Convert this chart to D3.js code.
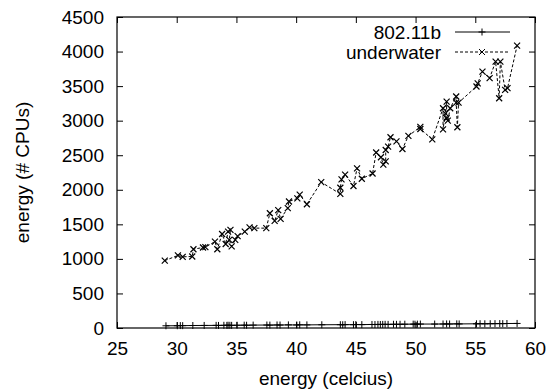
<!DOCTYPE html>
<html>
<head>
<meta charset="utf-8">
<script src="https://cdn.jsdelivr.net/npm/d3@7"></script>
<style>
  body { margin: 0; background: #fff; }
  svg { display: block; }
  text { font-family: "Liberation Sans", Arial, Helvetica, sans-serif; fill: #000; }
</style>
</head>
<body>
<svg id="chart" width="556" height="390"></svg>
<script>
// underwater series (temperature, value)
var underwaterX = [29.0, 30.1, 30.5, 31.3, 31.4, 32.2, 32.4, 33.2, 33.4, 33.8, 34.1, 34.3, 34.5, 34.4, 34.6,
  34.9, 35.1, 35.7, 36.1, 36.5, 37.5, 37.8, 38.2, 38.5, 38.7, 39.3, 39.4, 40.1, 40.3, 40.9,
  42.1, 43.7, 43.7, 43.8, 44.1, 44.8, 45.1, 45.5, 46.4, 46.7, 47.1, 47.3, 47.5, 47.5, 47.7,
  47.9, 48.4, 48.9, 49.4, 50.4, 50.4, 51.4, 52.3, 52.3, 52.5, 52.6, 52.6, 52.7, 52.9, 53.4,
  53.4, 53.5, 53.6, 55.1, 55.2, 55.6, 56.2, 56.7, 57.0, 57.1, 57.5, 57.7, 58.5];
var underwaterY = [975, 1050, 1030, 1035, 1140, 1165, 1170, 1250, 1140, 1360, 1215, 1395, 1420, 1275, 1180,
  1275, 1330, 1395, 1455, 1445, 1445, 1660, 1550, 1705, 1580, 1735, 1830, 1875, 1930, 1790,
  2110, 1940, 2030, 2150, 2220, 2055, 2310, 2160, 2235, 2540, 2470, 2365, 2410, 2575, 2625,
  2760, 2700, 2590, 2780, 2910, 2880, 2730, 3180, 2875, 3105, 3275, 3035, 3000, 3180, 3350,
  3260, 2905, 3260, 3495, 3540, 3710, 3615, 3855, 3325, 3855, 3445, 3470, 4085];

// 802.11b series
var wifiX = [29.1, 30.05, 30.3, 30.5, 31.35, 32.3, 33.3, 33.5, 33.95, 34.2, 34.3, 34.45, 34.6, 35.05, 35.65,
  35.85, 36.4, 37.55, 37.8, 38.4, 38.65, 39.35, 40.05, 40.3, 40.9, 42.15, 43.7, 43.9, 44.1, 44.8,
  45.0, 45.5, 46.35, 46.6, 46.85, 47.05, 47.25, 47.45, 47.7, 48.15, 48.4, 48.7, 49.1, 49.8, 49.95,
  50.15, 50.4, 51.6, 52.3, 52.6, 52.85, 53.45, 53.65, 55.1, 55.4, 55.8, 56.25, 56.65, 57.05, 57.3,
  57.65, 58.5];
var wifiY = [32, 33, 35, 34, 36, 37, 38, 37, 39, 38, 40, 39, 38, 40, 41,
  40, 42, 43, 42, 44, 43, 45, 44, 46, 45, 47, 48, 47, 49, 48,
  50, 49, 51, 50, 52, 51, 52, 53, 52, 54, 53, 54, 55, 56, 55,
  56, 57, 57, 58, 59, 58, 60, 59, 61, 62, 61, 62, 63, 64, 63,
  65, 66];

var xTicks = [25, 30, 35, 40, 45, 50, 55, 60];
var yTicks = [0, 500, 1000, 1500, 2000, 2500, 3000, 3500, 4000, 4500];
var seriesNames = ["802.11b", "underwater"];

var svg = d3.select("#chart");
// plot box (note: "top" is reserved on window, so use plot* names)
var plotLeft = 117, plotRight = 535, plotTop = 17, plotBottom = 328;

var x = d3.scaleLinear().domain([25, 60]).range([plotLeft, plotRight]);
var y = d3.scaleLinear().domain([0, 4500]).range([plotBottom, plotTop]);

var fontSize = 19;

// axes: inward ticks on all four sides, like gnuplot
function styleAxis(g) {
  g.select(".domain").remove();
  g.selectAll(".tick line").attr("stroke", "#000").attr("stroke-width", 1);
  g.selectAll(".tick text").style("font-size", fontSize + "px")
    .style("font-family", "Liberation Sans, Arial, sans-serif");
}

svg.append("g")
  .attr("transform", "translate(0," + plotBottom + ")")
  .call(d3.axisBottom(x).tickValues(xTicks).tickSize(-6).tickPadding(14).tickFormat(d3.format("d")))
  .call(styleAxis);

svg.append("g")
  .attr("transform", "translate(0," + plotTop + ")")
  .call(d3.axisTop(x).tickValues(xTicks).tickSize(-6).tickFormat(""))
  .call(styleAxis);

svg.append("g")
  .attr("transform", "translate(" + plotLeft + ",0)")
  .call(d3.axisLeft(y).tickValues(yTicks).tickSize(-6).tickPadding(13).tickFormat(d3.format("d")))
  .call(styleAxis);

svg.append("g")
  .attr("transform", "translate(" + plotRight + ",0)")
  .call(d3.axisRight(y).tickValues(yTicks).tickSize(-6).tickFormat(""))
  .call(styleAxis);

// frame
svg.append("rect")
  .attr("x", plotLeft).attr("y", plotTop)
  .attr("width", plotRight - plotLeft).attr("height", plotBottom - plotTop)
  .attr("fill", "none").attr("stroke", "#000").attr("stroke-width", 1.2);

// axis titles
svg.append("text")
  .attr("x", (plotLeft + plotRight) / 2).attr("y", 385)
  .attr("text-anchor", "middle")
  .style("font-size", fontSize + "px")
  .text("energy (celcius)");

svg.append("text")
  .attr("transform", "translate(29," + (plotTop + plotBottom) / 2 + ") rotate(-90)")
  .attr("text-anchor", "middle")
  .style("font-size", fontSize + "px")
  .text("energy (# CPUs)");

var wifi = wifiX.map(function (d, i) { return { x: d, y: wifiY[i] }; });
var under = underwaterX.map(function (d, i) { return { x: d, y: underwaterY[i] }; });

var line = d3.line()
  .x(function (d) { return x(d.x); })
  .y(function (d) { return y(d.y); });

var plusPath = "M-3.5,0H3.5M0,-3.5V3.5";
var crossPath = "M-3,-3L3,3M-3,3L3,-3";

// 802.11b: solid line with plus markers
svg.append("path")
  .datum(wifi)
  .attr("d", line)
  .attr("fill", "none").attr("stroke", "#000").attr("stroke-width", 1);

svg.selectAll(".plus")
  .data(wifi)
  .enter()
  .append("path")
  .attr("class", "plus")
  .attr("d", plusPath)
  .attr("transform", function (d) { return "translate(" + x(d.x) + "," + y(d.y) + ")"; })
  .attr("stroke", "#000").attr("stroke-width", 1);

// underwater: dashed line with x markers
svg.append("path")
  .datum(under)
  .attr("d", line)
  .attr("fill", "none").attr("stroke", "#000").attr("stroke-width", 1)
  .attr("stroke-dasharray", "3,2");

svg.selectAll(".cross")
  .data(under)
  .enter()
  .append("path")
  .attr("class", "cross")
  .attr("d", crossPath)
  .attr("transform", function (d) { return "translate(" + x(d.x) + "," + y(d.y) + ")"; })
  .attr("stroke", "#000").attr("stroke-width", 1.2);

// legend
var legendRows = [
  { name: seriesNames[0], ly: 32, dash: null, mark: plusPath },
  { name: seriesNames[1], ly: 52, dash: "3,2", mark: crossPath }
];

var legend = svg.selectAll(".legend")
  .data(legendRows)
  .enter()
  .append("g")
  .attr("class", "legend");

legend.append("text")
  .attr("x", 441)
  .attr("y", function (d) { return d.ly + 7; })
  .attr("text-anchor", "end")
  .style("font-size", fontSize + "px")
  .text(function (d) { return d.name; });

legend.append("line")
  .attr("x1", 455).attr("x2", 510)
  .attr("y1", function (d) { return d.ly; })
  .attr("y2", function (d) { return d.ly; })
  .attr("stroke", "#000").attr("stroke-width", 1)
  .attr("stroke-dasharray", function (d) { return d.dash; });

legend.append("path")
  .attr("d", function (d) { return d.mark; })
  .attr("transform", function (d) { return "translate(482," + d.ly + ")"; })
  .attr("stroke", "#000").attr("stroke-width", 1);
</script>
</body>
</html>
